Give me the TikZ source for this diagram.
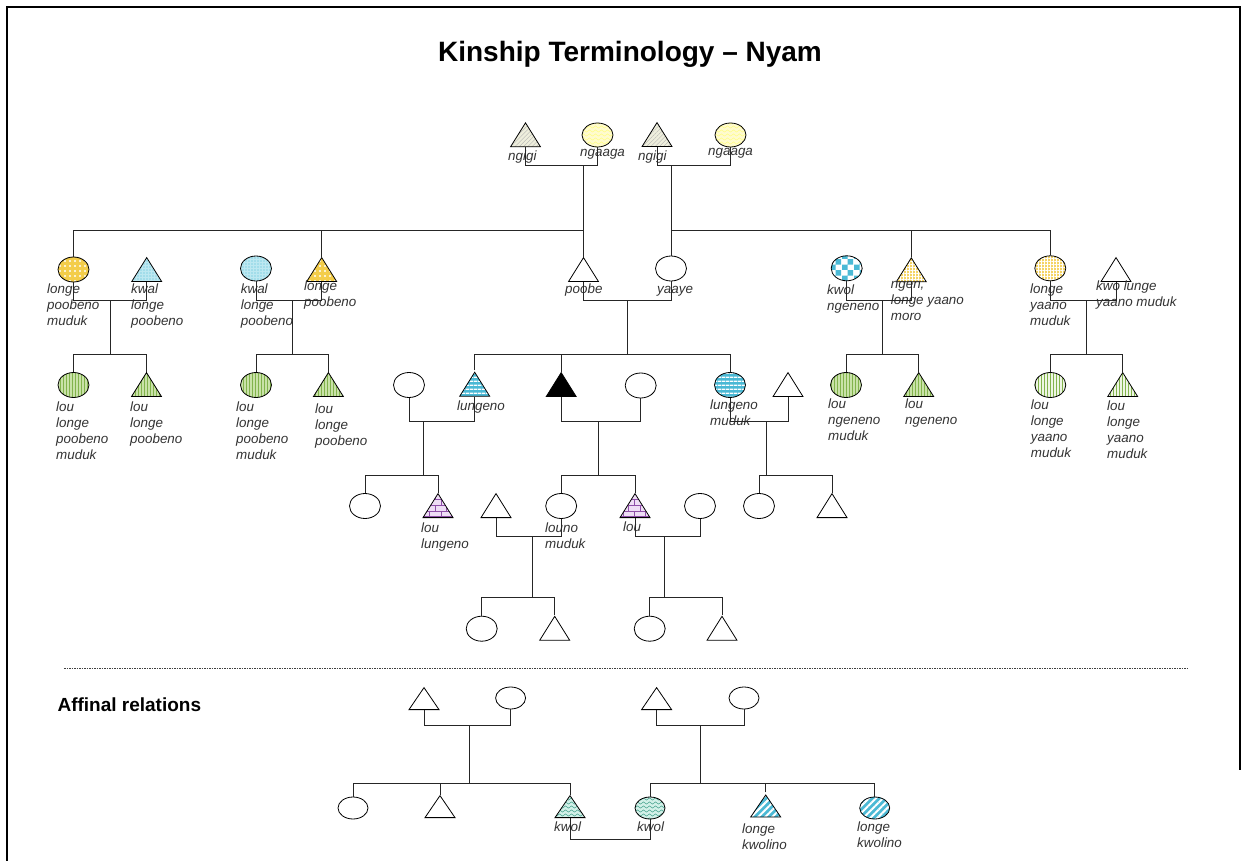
\documentclass[tikz,border=0pt]{standalone}
\usepackage{fontspec}
\setmainfont{Liberation Sans}
\usetikzlibrary{shapes.geometric}
\usetikzlibrary{patterns}
\usetikzlibrary{patterns.meta}

\definecolor{kgold}{HTML}{F3CD4A}
\definecolor{kpaleyel}{HTML}{FFFBCF}
\definecolor{kbeige}{HTML}{EEEEDC}
\definecolor{kblue}{HTML}{4BB9D5}
\definecolor{klightblue}{HTML}{BDE8F1}
\definecolor{kgreen}{HTML}{C9E2A8}
\definecolor{kgreenline}{HTML}{82B34C}
\definecolor{kpalegreen}{HTML}{EEF6E4}
\definecolor{kpurple}{HTML}{EEDDF5}
\definecolor{kbrick}{HTML}{8E4FA8}
\definecolor{kteal}{HTML}{D2F0E8}
\definecolor{ktealline}{HTML}{3E9E88}

\pgfdeclarepatternformonly{kinwaves}{\pgfpoint{0pt}{-0.5pt}}{\pgfpoint{6pt}{4.5pt}}{\pgfpoint{6pt}{4pt}}{
  \pgfsetlinewidth{0.5pt}
  \pgfpathmoveto{\pgfpoint{0pt}{2pt}}
  \pgfpathcurveto{\pgfpoint{1pt}{3.5pt}}{\pgfpoint{2pt}{3.5pt}}{\pgfpoint{3pt}{2pt}}
  \pgfpathcurveto{\pgfpoint{4pt}{0.5pt}}{\pgfpoint{5pt}{0.5pt}}{\pgfpoint{6pt}{2pt}}
  \pgfusepath{stroke}
}

\begin{document}
\begin{tikzpicture}[x=1pt,y=-1pt,
  tri/.style={isosceles triangle, isosceles triangle stretches, shape border rotate=90,
    minimum width=30pt, minimum height=24pt, inner sep=0pt, draw=black, line width=0.8pt,
    anchor=south, fill=white},
  circ/.style={ellipse, minimum width=31pt, minimum height=25pt, inner sep=0pt,
    draw=black, line width=0.8pt, fill=white},
  afftri/.style={tri, minimum height=22pt},
  affcirc/.style={circ, minimum width=30pt, minimum height=22pt},
  ln/.style={line width=1pt, draw=black!85},
  lbl/.style={anchor=north west, inner sep=0pt, align=left,
    font=\fontsize{13.4}{16}\selectfont\itshape, text=black!80},
  paletri/.style={preaction={fill=kbeige}, pattern={Lines[angle=45,distance=3pt,line width=0.3pt]}, pattern color=black!30},
  palecirc/.style={preaction={fill=kpaleyel}, pattern=kinwaves, pattern color=yellow!50!white},
  golddots/.style={preaction={fill=kgold}, pattern={Dots[distance=5pt,radius=1.1pt]}, pattern color=white},
  goldgrid/.style={preaction={fill=kgold!85}, pattern={Hatch[distance=3pt,line width=0.3pt]}, pattern color=white},
  bluedots/.style={preaction={fill=klightblue}, pattern={Dots[distance=3pt,radius=0.7pt]}, pattern color=kblue},
  bluechecker/.style={preaction={fill=white}, pattern=checkerboard, pattern color=kblue},
  greenstripes/.style={preaction={fill=kgreen}, pattern={Lines[angle=90,distance=3pt,line width=0.9pt]}, pattern color=kgreenline},
  palestripes/.style={preaction={fill=kpalegreen}, pattern={Lines[angle=90,distance=3pt,line width=0.4pt]}, pattern color=kgreenline},
  bluehstripes/.style={preaction={fill=kblue}, pattern={Lines[angle=0,distance=4pt,line width=1.5pt]}, pattern color=white},
  purplebricks/.style={preaction={fill=kpurple}, pattern=bricks, pattern color=kbrick},
  tealwaves/.style={preaction={fill=kteal}, pattern=kinwaves, pattern color=ktealline},
  bluediag/.style={preaction={fill=kblue}, pattern={Lines[angle=45,distance=5pt,line width=2pt]}, pattern color=white}]

\useasboundingbox (0,0) rectangle (1245,861);
\draw[line width=2pt] (7,861) -- (7,7) -- (1240,7) -- (1240,770);

\node[font=\fontsize{28}{33}\selectfont\bfseries, anchor=base] (title) at (630,61.7) {Kinship Terminology -- Nyam};

\node[tri, paletri] (ngigiL) at (525.5,147) {};
\node[circ, palecirc, minimum height=24pt] (ngaagaL) at (597.5,135) {};
\node[tri, paletri] (ngigiR) at (657,147) {};
\node[circ, palecirc, minimum height=24pt] (ngaagaR) at (730.5,135) {};
\node[lbl] (tngigiL) at (508,150.7) {ngigi};
\node[lbl] (tngaagaL) at (580,149) {ngaaga};
\node[lbl] (tngigiR) at (638,151) {ngigi};
\node[lbl] (tngaagaR) at (708,148) {ngaaga};

\node[circ, golddots] (lpmuduk) at (73.5,269.5) {};
\node[tri, bluedots] (kwalA) at (146.7,282) {};
\node[circ, bluedots] (kwalB) at (256,268.5) {};
\node[tri, golddots] (lpoob) at (321.7,282) {};
\node[tri] (poobe) at (583.5,282) {};
\node[circ] (yaaye) at (671,268.5) {};
\node[circ, bluechecker] (kwolng) at (846.7,268.3) {};
\node[tri, goldgrid] (ngen) at (911.3,282) {};
\node[circ, goldgrid] (lymuduk) at (1050.3,268.3) {};
\node[tri] (kwolunge) at (1116,282) {};
\node[lbl] (tlpmuduk) at (47,284) {longe\\poobeno\\muduk};
\node[lbl] (tkwalA) at (131,284) {kwal\\longe\\poobeno};
\node[lbl] (tkwalB) at (240.7,284) {kwal\\longe\\poobeno};
\node[lbl] (tlpoob) at (304,281) {longe\\poobeno};
\node[lbl] (tpoobe) at (565,284) {poobe};
\node[lbl] (tyaaye) at (657,286.5) {yaaye};
\node[lbl] (tkwolng) at (827,284.7) {kwol\\ngeneno};
\node[lbl] (tngen) at (890.7,281) {ngen,\\longe yaano\\moro};
\node[lbl] (tlymuduk) at (1030,284) {longe\\yaano\\muduk};
\node[lbl] (tkwolunge) at (1096,281) {kwo lunge\\yaano muduk};

\node[circ, greenstripes] (loulpm) at (73.5,385) {};
\node[tri, greenstripes] (loulp) at (146.5,397) {};
\node[circ, greenstripes] (loulpmB) at (256,385) {};
\node[tri, greenstripes] (loulpB) at (328.4,397) {};
\node[circ] (lungwife) at (409,385) {};
\node[tri, bluehstripes] (lungeno) at (474.7,397) {};
\node[tri, fill=black] (ego) at (561.2,397) {};
\node[circ] (egowife) at (640.7,385.5) {};
\node[circ, bluehstripes] (lungmuduk) at (730,385) {};
\node[tri] (lmhusb) at (788,397) {};
\node[circ, greenstripes] (lounm) at (846,385) {};
\node[tri, greenstripes] (loung) at (918.7,397) {};
\node[circ, palestripes] (louly) at (1050.3,385) {};
\node[tri, palestripes] (loulyT) at (1122.7,397) {};
\node[lbl] (tloulpm) at (56,402) {lou\\longe\\poobeno\\muduk};
\node[lbl] (tloulp) at (130,402) {lou\\longe\\poobeno};
\node[lbl] (tloulpmB) at (236,402) {lou\\longe\\poobeno\\muduk};
\node[lbl] (tloulpB) at (315,404) {lou\\longe\\poobeno};
\node[lbl] (tlungeno) at (457,401) {lungeno};
\node[lbl] (tlungmuduk) at (710,400) {lungeno\\muduk};
\node[lbl] (tlounm) at (828,399) {lou\\ngeneno\\muduk};
\node[lbl] (tloung) at (905,399) {lou\\ngeneno};
\node[lbl] (tlouly) at (1030.7,399.7) {lou\\longe\\yaano\\muduk};
\node[lbl] (tloulyT) at (1107,400.7) {lou\\longe\\yaano\\muduk};

\node[circ] (lungdau) at (365,506) {};
\node[tri, purplebricks] (loulung) at (438,518) {};
\node[tri] (louhusb) at (496,518) {};
\node[circ] (louno) at (561.2,506) {};
\node[tri, purplebricks] (lou) at (635,518) {};
\node[circ] (louwife) at (700,506) {};
\node[circ] (lmdau) at (759,506) {};
\node[tri] (lmson) at (832,518) {};
\node[lbl] (tloulung) at (421,523) {lou\\lungeno};
\node[lbl] (tlouno) at (545,523) {louno\\muduk};
\node[lbl] (tlou) at (623,522) {lou};

\node[circ] (gdA) at (481.7,628.7) {};
\node[tri] (gsA) at (554.7,640.7) {};
\node[circ] (gdB) at (649.7,628.7) {};
\node[tri] (gsB) at (722,640.7) {};

\draw[ln] (ngigiL.south) |- (ngaagaL.south |- 0,165.5) -- (ngaagaL.south);
\draw[ln] (ngigiR.south) |- (ngaagaR.south |- 0,165.5) -- (ngaagaR.south);
\draw[ln] (poobe.north) -- (poobe.north |- 0,165.5);
\draw[ln] (yaaye.north) -- (yaaye.north |- 0,165.5);
\draw[ln] (lpmuduk.north) |- (poobe.north |- 0,231);
\draw[ln] (lpoob.north) -- (lpoob.north |- 0,231);
\draw[ln] (lymuduk.north) |- (yaaye.north |- 0,231);
\draw[ln] (ngen.north) -- (ngen.north |- 0,231);

\coordinate (dA) at (110.7,300);
\coordinate (dB) at (292.7,300);
\coordinate (dC) at (627.7,300);
\coordinate (dD) at (882.7,300);
\coordinate (dE) at (1086.7,300);
\draw[ln] (lpmuduk.south) |- (kwalA.south |- dA) -- (kwalA.south);
\draw[ln] (kwalB.south) |- (lpoob.south |- dB) -- (lpoob.south);
\draw[ln] (poobe.south) |- (yaaye.south |- dC) -- (yaaye.south);
\draw[ln] (kwolng.south) |- (ngen.south |- dD) -- (ngen.south);
\draw[ln] (lymuduk.south) |- (kwolunge.south |- dE) -- (kwolunge.south);
\draw[ln] (dA) -- (dA |- 0,354);
\draw[ln] (dB) -- (dB |- 0,354);
\draw[ln] (dC) -- (dC |- 0,354);
\draw[ln] (dD) -- (dD |- 0,354);
\draw[ln] (dE) -- (dE |- 0,354);
\draw[ln] (loulpm.north) |- (loulp.north |- 0,354) -- (loulp.north);
\draw[ln] (loulpmB.north) |- (loulpB.north |- 0,354) -- (loulpB.north);
\draw[ln] (lungeno.north) |- (lungmuduk.north |- 0,354) -- (lungmuduk.north);
\draw[ln] (ego.north) -- (ego.north |- 0,354);
\draw[ln] (lounm.north) |- (loung.north |- 0,354) -- (loung.north);
\draw[ln] (louly.north) |- (loulyT.north |- 0,354) -- (loulyT.north);

\coordinate (dF) at (423.3,421);
\coordinate (dG) at (598,421);
\coordinate (dH) at (766,421);
\draw[ln] (lungwife.south) |- (lungeno.south |- dF) -- (lungeno.south);
\draw[ln] (ego.south) |- (egowife.south |- dG) -- (egowife.south);
\draw[ln] (lungmuduk.south) |- (lmhusb.south |- dH) -- (lmhusb.south);
\draw[ln] (dF) -- (dF |- 0,475);
\draw[ln] (dG) -- (dG |- 0,475);
\draw[ln] (dH) -- (dH |- 0,475);
\draw[ln] (lungdau.north) |- (loulung.north |- 0,475) -- (loulung.north);
\draw[ln] (louno.north) |- (lou.north |- 0,475) -- (lou.north);
\draw[ln] (lmdau.north) |- (lmson.north |- 0,475) -- (lmson.north);

\coordinate (dI) at (532.7,536.7);
\coordinate (dJ) at (664,536.7);
\draw[ln] (louhusb.south) |- (louno.south |- dI) -- (louno.south);
\draw[ln] (lou.south) |- (louwife.south |- dJ) -- (louwife.south);
\draw[ln] (dI) -- (dI |- 0,597.7);
\draw[ln] (dJ) -- (dJ |- 0,597.7);
\draw[ln] (gdA.north) |- (gsA.north |- 0,597.7) -- (gsA.north);
\draw[ln] (gdB.north) |- (gsB.north |- 0,597.7) -- (gsB.north);

\draw[dash pattern=on 1.5pt off 1pt, line width=0.7pt, black!75] (64,668) -- (1187,668);
\node[font=\fontsize{19}{23}\selectfont\bfseries, anchor=base west] (affinal) at (54,711.7) {Affinal relations};

\node[afftri] (afTA) at (424,710) {};
\node[affcirc] (afCA) at (510.6,698) {};
\node[afftri] (afTB) at (656.6,710) {};
\node[affcirc] (afCB) at (744,698) {};
\node[affcirc] (afD) at (353,808) {};
\node[afftri] (afS) at (440,818) {};
\node[afftri, tealwaves] (kwolT) at (570,818) {};
\node[affcirc, tealwaves] (kwolC) at (650,808) {};
\node[afftri, bluediag] (lkT) at (765.7,818) {};
\node[affcirc, bluediag] (lkC) at (874.7,808) {};
\node[lbl] (tkwolT) at (554,822) {kwol};
\node[lbl] (tkwolC) at (637,822) {kwol};
\node[lbl] (tlkT) at (742,824) {longe\\kwolino};
\node[lbl] (tlkC) at (857,822) {longe\\kwolino};

\coordinate (dK) at (469,725);
\coordinate (dL) at (700.9,725);
\draw[ln] (afTA.south) |- (afCA.south |- dK) -- (afCA.south);
\draw[ln] (afTB.south) |- (afCB.south |- dL) -- (afCB.south);
\draw[ln] (dK) -- (dK |- 0,783);
\draw[ln] (dL) -- (dL |- 0,783);
\draw[ln] (afD.north) |- (kwolT.north |- 0,783) -- (kwolT.north);
\draw[ln] (afS.north) -- (afS.north |- 0,783);
\draw[ln] (kwolC.north) |- (lkC.north |- 0,783) -- (lkC.north);
\draw[ln] (lkT.north) -- (lkT.north |- 0,783);
\draw[ln] (kwolT.south) |- (kwolC.south |- 0,839) -- (kwolC.south);
\end{tikzpicture}
\end{document}
